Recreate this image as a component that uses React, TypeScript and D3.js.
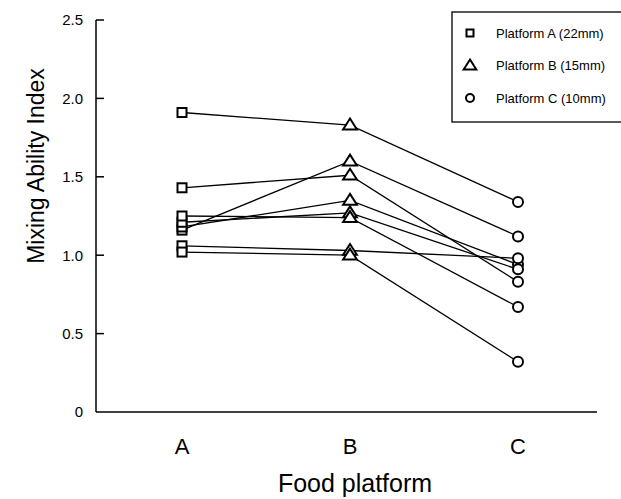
import React from "react";
import * as d3 from "d3";

const categories = ["A", "B", "C"];
const platformA = [1.91, 1.43, 1.16, 1.18, 1.21, 1.25, 1.06, 1.02];
const platformB = [1.83, 1.51, 1.60, 1.35, 1.27, 1.24, 1.03, 1.00];
const platformC = [1.34, 0.83, 1.12, 0.94, 0.91, 0.67, 0.98, 0.32];
const yTicks = [0, 0.5, 1.0, 1.5, 2.0, 2.5];
const yTickLabels = ["0", "0.5", "1.0", "1.5", "2.0", "2.5"];
const legendLabels = ["Platform A (22mm)", "Platform B (15mm)", "Platform C (10mm)"];

const W = 621;
const H = 499;
const FONT = "'Liberation Sans', Arial, Helvetica, sans-serif";

function Marker({ kind, x, y, s, sw }: { kind: number; x: number; y: number; s: number; sw: number }) {
  if (kind === 0) {
    return <rect x={x - s / 2} y={y - s / 2} width={s} height={s} fill="#fff" stroke="#000" strokeWidth={sw} />;
  }
  if (kind === 1) {
    const h = s * 0.9;
    const w = s * 1.15;
    const p = `M${x},${y - h * 0.6}L${x + w / 2},${y + h * 0.4}L${x - w / 2},${y + h * 0.4}Z`;
    return <path d={p} fill="#fff" stroke="#000" strokeWidth={sw} strokeLinejoin="miter" />;
  }
  return <circle cx={x} cy={y} r={s / 2} fill="#fff" stroke="#000" strokeWidth={sw} />;
}

export default function App() {
  const x = d3.scalePoint<string>().domain(categories).range([182, 518]);
  const y = d3.scaleLinear().domain([0, 2.5]).range([412, 20]);
  const axisLeft = 96;
  const axisRight = 597;

  const subjects = platformA.map((a, i) => [a, platformB[i], platformC[i]]);
  const line = d3
    .line<number>()
    .x((_, i) => x(categories[i]) as number)
    .y((d) => y(d));

  return (
    <svg
      width={W}
      height={H}
      viewBox={`0 0 ${W} ${H}`}
      style={{ position: "absolute", left: 0, top: 0, background: "#fff" }}
      fontFamily={FONT}
    >
      <rect x={0} y={0} width={W} height={H} fill="#fff" />
      {/* axes */}
      <line x1={axisLeft} x2={axisLeft} y1={y(2.5)} y2={y(0)} stroke="#000" strokeWidth={1.5} />
      <line x1={axisLeft} x2={axisRight} y1={y(0)} y2={y(0)} stroke="#000" strokeWidth={1.5} />
      {yTicks.map((t, i) => (
        <g key={t}>
          {t > 0 && (
            <line x1={axisLeft} x2={axisLeft + 8} y1={y(t)} y2={y(t)} stroke="#000" strokeWidth={1.5} />
          )}
          <text x={83} y={y(t)} dy="0.36em" textAnchor="end" fontSize={15} fill="#000">
            {yTickLabels[i]}
          </text>
        </g>
      ))}
      {categories.map((c) => (
        <text key={c} x={x(c)} y={454} textAnchor="middle" fontSize={22} fill="#000">
          {c}
        </text>
      ))}
      <text x={355} y={492} textAnchor="middle" fontSize={25} fill="#000">
        Food platform
      </text>
      <text
        transform={`translate(44,${166}) rotate(-90)`}
        textAnchor="middle"
        fontSize={23}
        fill="#000"
      >
        Mixing Ability Index
      </text>
      {/* lines */}
      {subjects.map((s, i) => (
        <path key={i} d={line(s) as string} fill="none" stroke="#000" strokeWidth={1.3} />
      ))}
      {/* markers */}
      {subjects.map((s, i) =>
        s.map((v, j) => (
          <Marker
            key={`${i}-${j}`}
            kind={j}
            x={x(categories[j]) as number}
            y={y(v)}
            s={j === 0 ? 9 : j === 1 ? 12 : 10}
            sw={2}
          />
        ))
      )}
      {/* legend */}
      <rect x={452} y={12} width={170} height={110} fill="#fff" stroke="#000" strokeWidth={1.3} />
      {legendLabels.map((l, i) => {
        const ly = 33 + i * 32.5;
        return (
          <g key={l}>
            <Marker kind={i} x={470} y={ly} s={i === 0 ? 7 : i === 1 ? 11 : 8} sw={2} />
            <text x={496} y={ly} dy="0.36em" fontSize={13} fill="#000">
              {l}
            </text>
          </g>
        );
      })}
    </svg>
  );
}
